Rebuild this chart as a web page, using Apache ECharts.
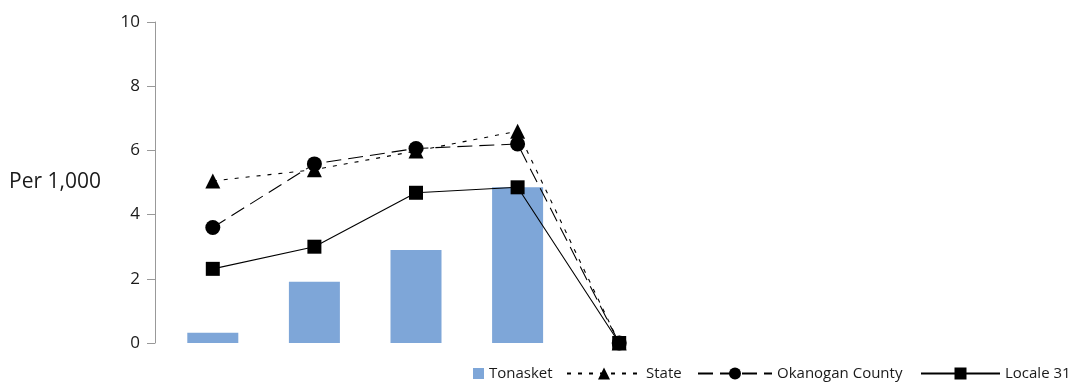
<!DOCTYPE html>
<html>
<head>
<meta charset="utf-8">
<script src="https://cdn.jsdelivr.net/npm/echarts@6/dist/echarts.min.js"></script>
<style>
  html, body { margin: 0; padding: 0; background: #fff; }
  #chart { width: 1069px; height: 388px; }
</style>
</head>
<body>
<div id="chart"></div>
<script>
  // categories have no labels in the picture
  const categories = ['', '', '', '', ''];
  const tonasket = [0.32, 1.91, 2.9, 4.85, 0];
  const stateVals = [5.05, 5.4, 5.98, 6.6, 0];
  const okanogan = [3.6, 5.58, 6.06, 6.2, 0];
  const locale31 = [2.31, 3.0, 4.68, 4.85, 0];

  const txt = '#1a1a1a';
  const font = 'Open Sans';

  // one legend per entry so each icon can have its own width
  function leg(name, left, w, h, icon) {
    const l = {
      left: left,
      top: 366,
      itemWidth: w,
      itemHeight: h,
      padding: 0,
      textStyle: {color: txt, fontSize: 15, fontFamily: font},
      data: [icon ? {name: name, icon: icon} : {name: name}]
    };
    return l;
  }

  const chart = echarts.init(document.getElementById('chart'));
  chart.setOption({
    animation: false,
    textStyle: {fontFamily: font},
    grid: {left: 162, top: 22, width: 508, height: 321, containLabel: false, outerBoundsMode: 'none'},
    legend: [
      leg('Tonasket', 473, 11, 11, 'rect'),
      leg('State', 566, 74, 15),
      leg('Okanogan County', 697, 74, 15),
      leg('Locale 31', 920, 79, 15)
    ],
    xAxis: {
      type: 'category',
      data: categories,
      axisLine: {show: false},
      axisTick: {show: false},
      axisLabel: {show: false}
    },
    yAxis: {
      type: 'value',
      min: 0,
      max: 10,
      interval: 2,
      offset: 7,
      name: 'Per 1,000',
      nameLocation: 'middle',
      nameRotate: 0,
      nameGap: 54,
      nameTextStyle: {color: txt, fontSize: 21, fontFamily: font, padding: [0, 0, 4, 0]},
      axisLine: {show: true, lineStyle: {color: '#999', width: 1}},
      axisTick: {show: true, length: 8, lineStyle: {color: '#999'}},
      axisLabel: {color: txt, fontSize: 17, margin: 15},
      splitLine: {show: false}
    },
    series: [
      {
        name: 'Tonasket',
        type: 'bar',
        barWidth: 51,
        itemStyle: {color: '#7EA6D8'},
        data: tonasket,
        z: 1
      },
      {
        name: 'State',
        type: 'line',
        symbol: 'triangle',
        symbolSize: 15,
        itemStyle: {color: '#000'},
        lineStyle: {color: '#000', width: 1.1, type: [4, 7]},
        data: stateVals,
        z: 3
      },
      {
        name: 'Okanogan County',
        type: 'line',
        symbol: 'circle',
        symbolSize: 15,
        itemStyle: {color: '#000'},
        lineStyle: {color: '#000', width: 1.1, type: [15, 7]},
        data: okanogan,
        z: 3
      },
      {
        name: 'Locale 31',
        type: 'line',
        symbol: 'rect',
        symbolSize: 14,
        itemStyle: {color: '#000'},
        lineStyle: {color: '#000', width: 1.1},
        data: locale31,
        z: 3
      }
    ]
  });
</script>
</body>
</html>
